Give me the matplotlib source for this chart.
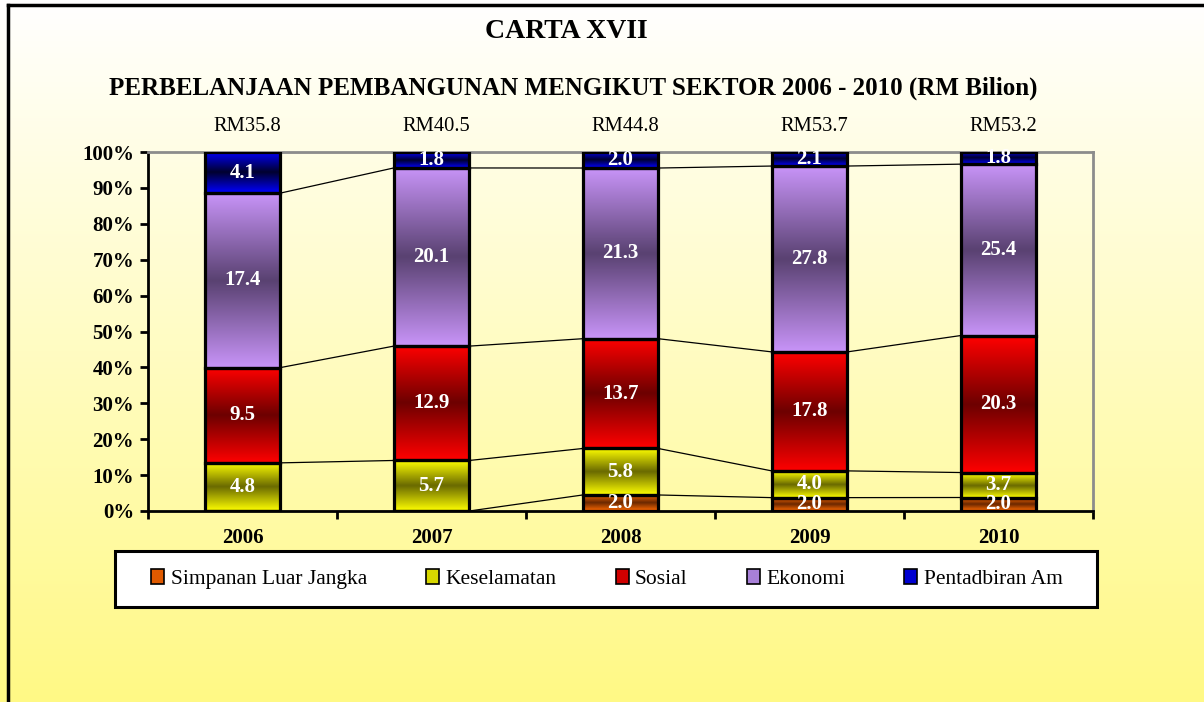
import numpy as np
import matplotlib
matplotlib.use("Agg")
import matplotlib.pyplot as plt
from matplotlib.colors import LinearSegmentedColormap
from matplotlib.patches import Patch, Rectangle
from matplotlib.lines import Line2D

plt.rcParams['font.family'] = ['Liberation Serif', 'DejaVu Serif']

# data (RM billion)
years = ["2006", "2007", "2008", "2009", "2010"]
sectors = ["Simpanan Luar Jangka", "Keselamatan", "Sosial", "Ekonomi", "Pentadbiran Am"]
simpanan = [0.0, 0.0, 2.0, 2.0, 2.0]
keselamatan = [4.8, 5.7, 5.8, 4.0, 3.7]
sosial = [9.5, 12.9, 13.7, 17.8, 20.3]
ekonomi = [17.4, 20.1, 21.3, 27.8, 25.4]
pentadbiran = [4.1, 1.8, 2.0, 2.1, 1.8]

# light (edge) / dark (middle) colours of each gradient fill
light = ["#FF6A00", "#FFFF00", "#FF0000", "#C894F8", "#0000FF"]
dark = ["#6B2800", "#6B6B00", "#6E0000", "#5A4272", "#000030"]
legend_col = ["#E05A00", "#D8D800", "#D00000", "#A880D8", "#0000D0"]

series = np.array([simpanan, keselamatan, sosial, ekonomi, pentadbiran])
totals = series.sum(axis=0)
pct = series / totals * 100
tops = np.cumsum(pct, axis=0)
bottoms = tops - pct

fig = plt.figure(figsize=(12.04, 7.02), dpi=100)

# background gradient white -> yellow
bg = fig.add_axes([0, 0, 1, 1], zorder=-10)
grad = np.linspace(0, 1, 256)[:, None]
bg_cmap = LinearSegmentedColormap.from_list("bg", ["#FFFFFF", "#FFF985"])
bg.imshow(grad, aspect='auto', cmap=bg_cmap, extent=[0, 1, 0, 1], origin='upper')
bg.set_axis_off()

# outer frame
fig.add_artist(Line2D([8/1204, 1], [1 - 5/702, 1 - 5/702], color='black', lw=2.5))
fig.add_artist(Line2D([8/1204, 8/1204], [0, 1 - 5/702], color='black', lw=2.5))

ax = fig.add_axes([148/1204, 191/702, 945/1204, 359/702])
ax.set_facecolor('none')

x = np.arange(len(years))
w = 0.4
vgrad = np.abs(np.linspace(-1, 1, 200))[:, None]

for i in range(len(sectors)):
    cmap = LinearSegmentedColormap.from_list("g%d" % i, [dark[i], light[i]])
    bars = ax.bar(x, pct[i], w, bottom=bottoms[i], facecolor='none',
                  edgecolor='black', lw=2.3, zorder=3)
    for j, b in enumerate(bars):
        if pct[i][j] <= 0:
            continue
        im = ax.imshow(vgrad, cmap=cmap, aspect='auto', origin='lower',
                       interpolation='bilinear',
                       extent=[x[j] - w/2, x[j] + w/2, bottoms[i][j], tops[i][j]],
                       zorder=2)
        im.set_clip_path(b)
        ax.text(x[j], (bottoms[i][j] + tops[i][j]) / 2, "%.1f" % series[i][j],
                ha='center', va='center', color='white', fontweight='bold',
                fontsize=15, zorder=4)
    # series lines between bars
    for j in range(len(years) - 1):
        ax.plot([x[j] + w/2, x[j+1] - w/2], [tops[i][j], tops[i][j+1]],
                color='black', lw=0.9, zorder=1.5)

for j in range(len(years)):
    ax.text(x[j] + 0.027, 107, "RM%.1f" % totals[j], ha='center', va='center',
            fontsize=14.8, clip_on=False)

ax.set_xlim(-0.5, 4.5)
ax.set_ylim(0, 100)
ax.set_yticks(range(0, 101, 10))
ax.set_yticklabels(["%d%%" % v for v in range(0, 101, 10)],
                   fontweight='bold', fontsize=15)
ax.set_xticks(x)
ax.set_xticklabels(years, fontweight='bold', fontsize=15)
ax.set_xticks(np.arange(-0.5, 5, 1), minor=True)
ax.tick_params(axis='x', which='major', length=0, pad=12)
ax.tick_params(axis='x', which='minor', length=6, width=2, direction='out')
ax.tick_params(axis='y', length=6, width=2, direction='out', pad=4)
for s in ['left', 'bottom']:
    ax.spines[s].set_color('black')
    ax.spines[s].set_linewidth(2)
for s in ['top', 'right']:
    ax.spines[s].set_color('#8c8c8c')
    ax.spines[s].set_linewidth(2)

fig.text(566/1204, 1 - 32/702, "CARTA XVII", ha='center', va='center',
         fontsize=20, fontweight='bold')
fig.text(573/1204, 1 - 88/702,
         "PERBELANJAAN PEMBANGUNAN MENGIKUT SEKTOR 2006 - 2010 (RM Bilion)",
         ha='center', va='center', fontsize=18, fontweight='bold')

# legend box
fig.add_artist(Rectangle((115/1204, 95/702), 982/1204, 56/702,
                         transform=fig.transFigure, facecolor='white',
                         edgecolor='black', lw=2.2, zorder=5))
handles = [Patch(facecolor=legend_col[i], edgecolor='black', lw=1.2)
           for i in range(len(sectors))]
leg = fig.legend(handles, sectors, ncol=5, loc='center',
                 bbox_to_anchor=(607/1204, 123/702),
                 fontsize=15.5, frameon=False, handlelength=0.6,
                 handleheight=0.7, handletextpad=0.3, columnspacing=2.75)
leg.set_zorder(6)

fig.savefig("out.png", dpi=100)
